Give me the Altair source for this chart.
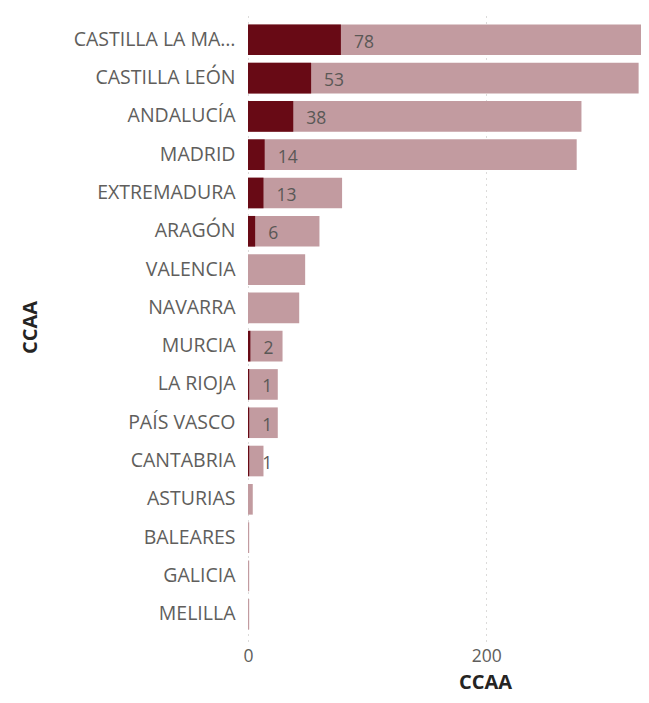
import altair as alt
import pandas as pd

ccaa = ["CASTILLA LA MANCHA", "CASTILLA LEÓN", "ANDALUCÍA", "MADRID", "EXTREMADURA",
        "ARAGÓN", "VALENCIA", "NAVARRA", "MURCIA", "LA RIOJA", "PAÍS VASCO",
        "CANTABRIA", "ASTURIAS", "BALEARES", "GALICIA", "MELILLA"]
total = [345, 328, 280, 276, 79, 60, 48, 43, 29, 25, 25, 13, 4, 1, 1, 1]
subset = [78, 53, 38, 14, 13, 6, 0, 0, 2, 1, 1, 1, 0, 0, 0, 0]
x_ticks = [0, 200]

df = pd.DataFrame({"ccaa": ccaa, "total": total, "subset": subset})
df["label"] = [str(v) if v > 0 else "" for v in subset]

FONT = "Open Sans"
y_enc = alt.Y("ccaa:N", sort=ccaa,
              scale=alt.Scale(paddingInner=0.2, paddingOuter=0.3),
              axis=alt.Axis(title="CCAA", titleFont=FONT, titleFontSize=20, titleFontWeight="bold",
                            titleColor="#252423", titleX=-208, titlePadding=0,
                            labelFont=FONT, labelFontSize=19.5, labelColor="#605e5c",
                            labelLimit=166, labelPadding=13, ticks=False, domain=False, grid=False))
x_scale = alt.Scale(domain=[0, 330], nice=False, clamp=False)
x_axis = alt.Axis(values=x_ticks, title="CCAA", titleFont=FONT, titleFontSize=20,
                  titleFontWeight="bold", titleColor="#252423", titleX=237, titleY=31,
                  labelFont=FONT, labelFontSize=17.5, labelColor="#605e5c", labelPadding=6,
                  labelFlush=False,
                  ticks=False, domain=False, grid=True, gridDash=[1, 5], gridColor="#b8b6b4",
                  gridWidth=1)

light = alt.Chart(df).mark_bar(color="#c29ba0", clip=True).encode(
    x=alt.X("total:Q", scale=x_scale, axis=x_axis), y=y_enc)
dark = alt.Chart(df).mark_bar(color="#680a15", clip=True).encode(
    x=alt.X("subset:Q", scale=x_scale), y=alt.Y("ccaa:N", sort=ccaa))
text = alt.Chart(df).mark_text(align="left", baseline="middle", dx=13, dy=3, font=FONT,
                               fontSize=17.5, color="#5a5856").encode(
    x=alt.X("subset:Q", scale=x_scale), y=alt.Y("ccaa:N", sort=ccaa), text="label:N")

chart = alt.layer(light, dark, text).properties(
    width=393, height=628,
    autosize=alt.AutoSizeParams(type="none"),
    padding={"left": 240, "top": 5, "right": 0, "bottom": 54},
    view=alt.ViewBackground(stroke="transparent", strokeWidth=0),
).configure_view(stroke="transparent", strokeWidth=0).configure(background="white")

chart.save("out.html", embed_options={"renderer": "svg", "actions": False})
